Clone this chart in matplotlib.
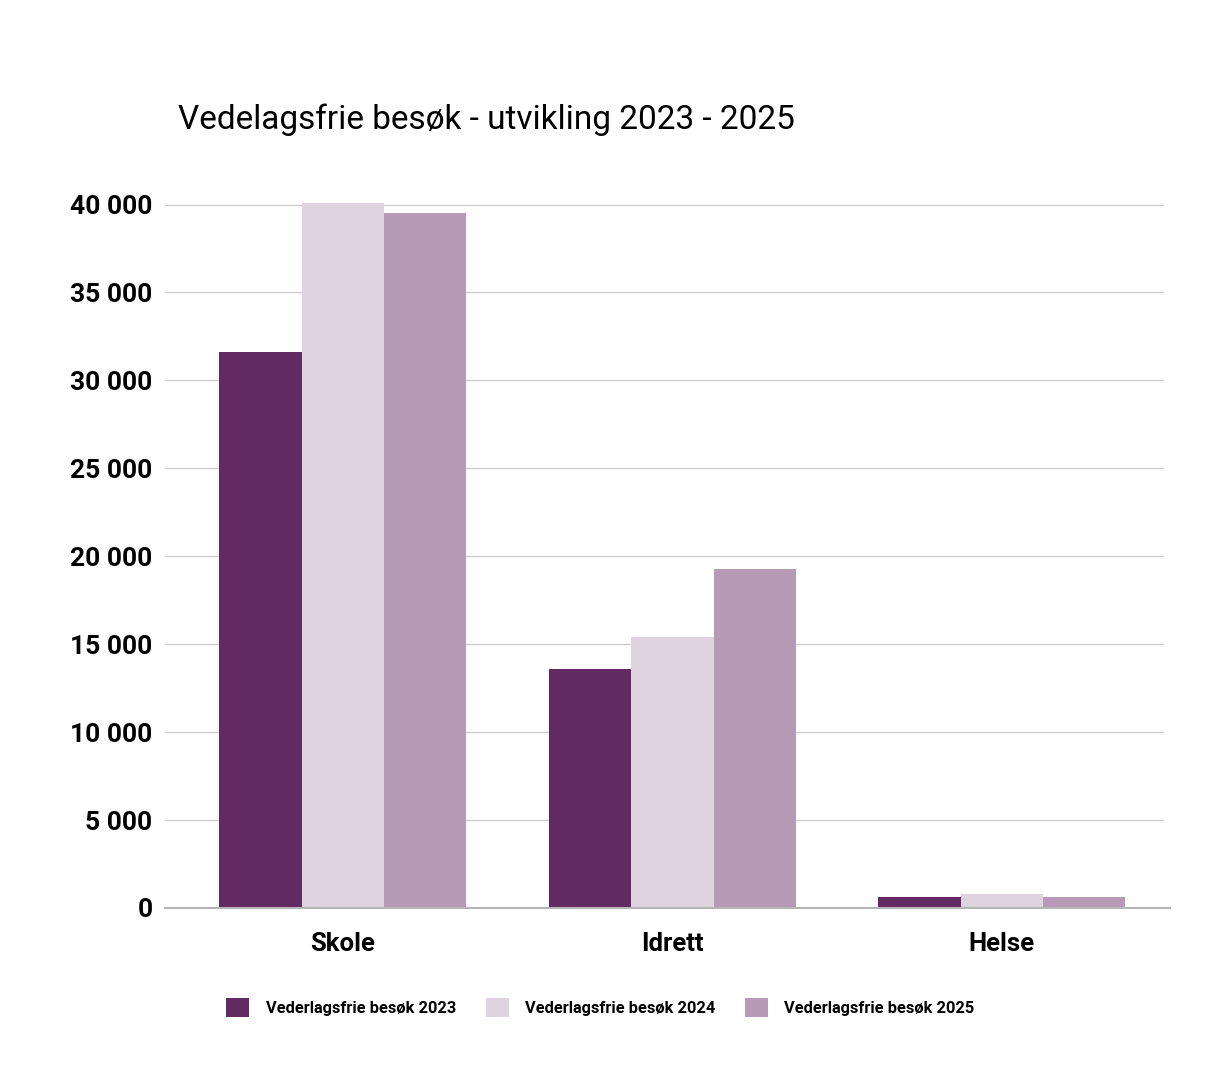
import matplotlib.pyplot as plt
import numpy as np
from matplotlib.ticker import FuncFormatter

# data
categories = ["Skole", "Idrett", "Helse"]
series_names = ["Vederlagsfrie besøk 2023", "Vederlagsfrie besøk 2024", "Vederlagsfrie besøk 2025"]
v2023 = [31600, 13600, 630]
v2024 = [40100, 15400, 790]
v2025 = [39500, 19300, 630]
colors = ["#622A63", "#E0D3E0", "#B69AB6"]

plt.rcParams['font.family'] = ['Roboto', 'DejaVu Sans']

fig = plt.figure(figsize=(12.13, 10.80), dpi=100)
ax = fig.add_axes([0.136, 0.1593, 0.8285, 0.6676])

x = np.arange(len(categories))
w = 0.25
for i, (vals, name, c) in enumerate(zip([v2023, v2024, v2025], series_names, colors)):
    ax.bar(x + (i - 1) * w, vals, width=w, color=c, label=name, zorder=3)

ax.set_xlim(-0.54, 2.51)
ax.set_ylim(0, 41000)
ax.set_yticks(range(0, 40001, 5000))
ax.yaxis.set_major_formatter(FuncFormatter(lambda v, p: f"{int(v):,}".replace(",", " ")))
# grid lines stop a little before the axis line ends
for yv in range(5000, 40001, 5000):
    ax.axhline(yv, xmin=0, xmax=0.993, color='#cccccc', linewidth=1, zorder=0)
for s in ['top', 'right', 'left']:
    ax.spines[s].set_visible(False)
ax.spines['bottom'].set_color('#b5b5b5')
ax.spines['bottom'].set_linewidth(1.5)
ax.spines['bottom'].set_zorder(4)
ax.tick_params(axis='both', length=0)
ax.tick_params(axis='y', pad=9, labelsize=19)
ax.tick_params(axis='x', pad=17, labelsize=18.5)
for lab in ax.get_yticklabels() + ax.get_xticklabels():
    lab.set_fontweight('bold')
ax.set_xticks(x)
ax.set_xticklabels(categories)

fig.text(0.147, 0.889, "Vedelagsfrie besøk - utvikling 2023 - 2025", fontsize=24, va='center', ha='left')

fig.legend(loc='center', bbox_to_anchor=(0.495, 0.067), ncol=3, frameon=False,
           prop={'size': 11.8, 'weight': 'bold'}, handlelength=1.4, handleheight=1.4,
           columnspacing=1.8, handletextpad=1.0)

fig.savefig("out.png", dpi=100)
